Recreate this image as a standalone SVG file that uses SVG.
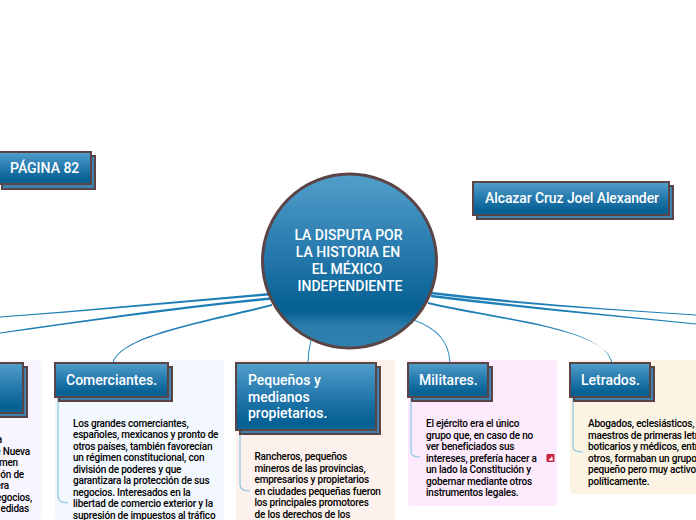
<svg xmlns="http://www.w3.org/2000/svg" width="696" height="520" viewBox="0 0 696 520">
<style>
text{font-family:Roboto,"Liberation Sans",sans-serif}
.box{fill:url(#g);stroke:#5b4446;stroke-width:2}
.sh{fill:#3f82ad;stroke:#5b4446;stroke-width:2}
.t{fill:#fff;font-size:14px;font-weight:500}
.b{fill:#000;font-size:10px;font-weight:500;letter-spacing:-.2px}
.m{fill:#1d7fb5;stroke:none}
.s{fill:none;stroke:#3a94c6;stroke-width:1.1}
.i{fill:none;stroke:#8cc6e4;stroke-width:1.2}
</style>
<defs>
<linearGradient id="g" x1="0" y1="0" x2="0" y2="1"><stop offset="0" stop-color="#529fcb"/><stop offset=".5" stop-color="#2478ac"/><stop offset=".9" stop-color="#045f92"/><stop offset="1" stop-color="#0f6a9b"/></linearGradient>
<linearGradient id="c" x1="0" y1="0" x2="0" y2="1"><stop offset="0" stop-color="#529fcb"/><stop offset=".5" stop-color="#2275a9"/><stop offset=".78" stop-color="#045f92"/><stop offset=".88" stop-color="#2d7eac"/><stop offset="1" stop-color="#2f80ad"/></linearGradient>
</defs>
<rect x="0" y="360" width="42" height="160" rx="3" fill="#f9f5fe"/>
<rect x="55" y="360" width="169" height="160" rx="3" fill="#f3f8fe"/>
<rect x="236" y="360" width="159" height="160" rx="3" fill="#fcf1ec"/>
<rect x="408" y="360" width="149" height="146" rx="3" fill="#fdeafd"/>
<rect x="570" y="360" width="130" height="134" rx="3" fill="#fbf3e4"/>
<g id="connectors">
<path class="m" d="M272 292.800C180 300.800 90 309.700 0 316.400V317.600C90 311.200 180 303.200 272 295.200Z"/>
<path class="m" d="M272 297.300C180 305.800 90 319.700 0 332.400V333.600C90 321.200 180 308.200 272 299.700Z"/>
<path class="m" d="M272 304C205 321.100 120 335 112.500 363H113.500C121 336 205 323.100 272 306Z"/>
<path class="s" d="M311 340C309 348 308 355 308 363"/>
<path class="m" d="M431 291.800C520 302.800 610 308.800 696 314.400V315.600C610 310.200 520 305.200 431 294.200Z"/>
<path class="m" d="M431 294.800C520 305.800 610 314.800 696 323.400V324.600C610 316.200 520 308.200 431 297.200Z"/>
<path class="m" d="M428 302C500 319.100 605 327 611.500 363H612.500C606 328 500 321.100 428 304Z"/>
<path class="s" d="M414 320C438 329 449 342 450 363"/>
<path class="i" d="M58 397V496Q58 503 68 503"/>
<path class="i" d="M240 430V485Q240 491 250 491"/>
<path class="i" d="M411 397V452Q411 457 420 457"/>
<path class="i" d="M573 397V447Q573 452 583 452"/>
</g>
<g id="root"><circle cx="349.500" cy="261" r="87" fill="url(#c)" stroke="#5b4446" stroke-width="3"/>
<text x="348.500" y="240" text-anchor="middle" class="t">LA DISPUTA POR</text>
<text x="348" y="257" text-anchor="middle" class="t">LA HISTORIA EN</text>
<text x="347" y="274" text-anchor="middle" class="t">EL MÉXICO</text>
<text x="350" y="291" text-anchor="middle" class="t">INDEPENDIENTE</text></g>
<g id="pagina"><rect class="sh" x="2" y="156" width="93" height="33"/><rect class="box" x="-3" y="152" width="94" height="32"/><text x="10" y="173" class="t">PÁGINA 82</text></g>
<g id="autor"><rect class="sh" x="477" y="186" width="196" height="33"/><rect class="box" x="473" y="182" width="196" height="33"/><text x="485" y="203" class="t" textLength="174" lengthAdjust="spacing">Alcazar Cruz Joel Alexander</text></g>
<g id="clipped"><rect class="sh" x="-10" y="367" width="37" height="50"/><rect class="box" x="-14" y="363" width="37" height="50"/>
<g class="b" text-anchor="end"><text x="2" y="443">a</text><text x="30" y="454.500">e Nueva</text><text x="18" y="466">men</text><text x="24" y="477.500">ón de</text><text x="9" y="489">era</text><text x="32" y="500.500">egocios,</text><text x="29" y="512">edidas</text></g></g>
<g id="comerciantes"><rect class="sh" x="59" y="367" width="113" height="34"/><rect class="box" x="55" y="363" width="113" height="34"/><text x="66" y="385" class="t">Comerciantes.</text>
<g class="b"><text x="73" y="426.500">Los grandes comerciantes,</text><text x="73" y="438">españoles, mexicanos y pronto de</text><text x="73" y="449.500">otros países, también favorecían</text><text x="73" y="461">un régimen constitucional, con</text><text x="73" y="472.500">división de poderes y que</text><text x="73" y="484">garantizara la protección de sus</text><text x="73" y="495.500">negocios. Interesados en la</text><text x="73" y="507">libertad de comercio exterior y la</text><text x="73" y="518.500">supresión de impuestos al tráfico</text></g></g>
<g id="pequenos"><rect class="sh" x="240" y="367" width="140" height="67"/><rect class="box" x="236" y="363" width="140" height="67"/><text x="248" y="385" class="t">Pequeños y</text><text x="248" y="401.500" class="t">medianos</text><text x="248" y="418" class="t">propietarios.</text>
<g class="b"><text x="254.500" y="460">Rancheros, pequeños</text><text x="254.500" y="471.500">mineros de las provincias,</text><text x="254.500" y="483">empresarios y propietarios</text><text x="254.500" y="494.500">en ciudades pequeñas fueron</text><text x="254.500" y="506">los principales promotores</text><text x="254.500" y="517.500">de los derechos de los</text></g></g>
<g id="militares"><rect class="sh" x="412" y="367" width="80" height="34"/><rect class="box" x="408" y="363" width="80" height="34"/><text x="419" y="385" class="t">Militares.</text>
<g class="b"><text x="426" y="427">El ejército era el único</text><text x="426" y="438.500">grupo que, en caso de no</text><text x="426" y="450">ver beneficiados sus</text><text x="426" y="461.500">intereses, prefería hacer a</text><text x="426" y="473">un lado la Constitución y</text><text x="426" y="484.500">gobernar mediante otros</text><text x="426" y="496">instrumentos legales.</text></g>
<rect x="546.500" y="454" width="8" height="8" rx="1" fill="#c8223c"/><path d="M548.500 460.500l1.500-2.500 1 .5 1-3 1 5z" fill="#fff"/></g>
<g id="letrados"><rect class="sh" x="574" y="367" width="80" height="34"/><rect class="box" x="570" y="363" width="80" height="34"/><text x="581" y="385" class="t">Letrados.</text>
<g class="b"><text x="588" y="427">Abogados, eclesiásticos,</text><text x="588" y="438.500">maestros de primeras letras,</text><text x="588" y="450">boticarios y médicos, entre</text><text x="588" y="461.500">otros, formaban un grupo</text><text x="588" y="473">pequeño pero muy activo</text><text x="588" y="484.500">políticamente.</text></g></g>
</svg>
